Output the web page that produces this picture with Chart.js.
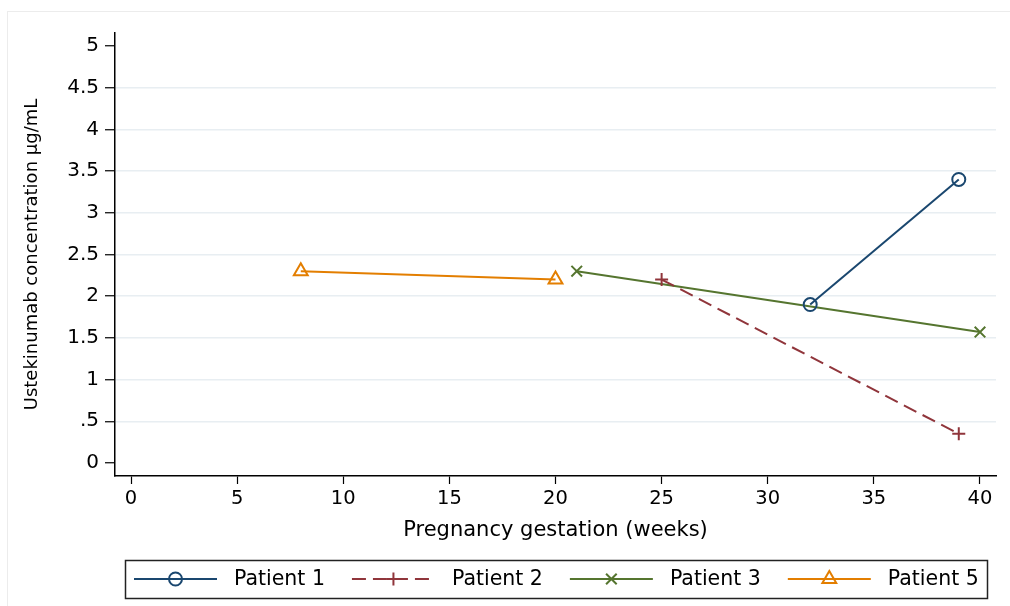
<!DOCTYPE html>
<html>
<head>
<meta charset="utf-8">
<script src="https://cdn.jsdelivr.net/npm/chart.js@4/dist/chart.umd.min.js"></script>
<style>
  html, body { margin: 0; padding: 0; background: #fff; }
  #wrap { width: 1010px; height: 606px; position: relative; }
</style>
</head>
<body>
<div id="wrap"><canvas id="c" width="1010" height="606"></canvas></div>
<script>
// Serum ustekinumab levels during pregnancy, per patient
const patient1Weeks = [32, 39];
const patient1Conc  = [1.9, 3.4];
const patient2Weeks = [25, 39];
const patient2Conc  = [2.2, 0.35];
const patient3Weeks = [21, 40];
const patient3Conc  = [2.3, 1.57];
const patient5Weeks = [8, 20];
const patient5Conc  = [2.3, 2.2];

const seriesNames = ['Patient 1', 'Patient 2', 'Patient 3', 'Patient 5'];

const xTickValues = [0, 5, 10, 15, 20, 25, 30, 35, 40];
const yTickValues = [0, 0.5, 1, 1.5, 2, 2.5, 3, 3.5, 4, 4.5, 5];
const yTickLabels = ['0', '.5', '1', '1.5', '2', '2.5', '3', '3.5', '4', '4.5', '5'];

const FONT = "'DejaVu Sans', 'Liberation Sans', sans-serif";

function pts(xs, ys) { return xs.map((x, i) => ({ x: x, y: ys[i] })); }

const styles = [
  { color: '#1a476f', point: 'circle',   radius: 6.5, dash: [] },
  { color: '#90353b', point: 'cross',    radius: 6.5, dash: [14, 7] },
  { color: '#55752f', point: 'crossRot', radius: 7.5, dash: [] },
  { color: '#e37e00', point: 'triangle', radius: 8,   dash: [] }
];
const seriesData = [
  pts(patient1Weeks, patient1Conc),
  pts(patient2Weeks, patient2Conc),
  pts(patient3Weeks, patient3Conc),
  pts(patient5Weeks, patient5Conc)
];

const datasets = seriesNames.map((name, i) => ({
  label: name,
  data: seriesData[i],
  borderColor: styles[i].color,
  borderWidth: 2,
  borderDash: styles[i].dash,
  pointStyle: styles[i].point,
  pointRadius: styles[i].radius,
  pointHoverRadius: styles[i].radius,
  pointBorderWidth: 2,
  pointBorderColor: styles[i].color,
  pointBackgroundColor: 'rgba(0,0,0,0)',
  fill: false,
  tension: 0
}));

// faint frame around the whole graph region
const framePlugin = {
  id: 'frame',
  beforeDraw(chart) {
    const ctx = chart.ctx;
    ctx.save();
    ctx.fillStyle = '#ffffff';
    ctx.fillRect(0, 0, chart.width, chart.height);
    ctx.strokeStyle = '#ececec';
    ctx.lineWidth = 1;
    ctx.strokeRect(7.5, 11.5, chart.width + 20, chart.height + 20);
    ctx.restore();
  }
};

function drawMarker(ctx, style, x, y) {
  if (Chart.helpers && Chart.helpers.drawPoint) {
    Chart.helpers.drawPoint(ctx, { pointStyle: style.point, radius: style.radius, rotation: 0, borderWidth: 2 }, x, y);
  }
}

// boxed legend in one row below the x axis title
const legendPlugin = {
  id: 'boxLegend',
  afterDraw(chart) {
    const ctx = chart.ctx;
    const boxL = 125, boxT = 560, boxW = 862, boxH = 38;
    const cy = boxT + boxH / 2;
    ctx.save();
    ctx.strokeStyle = '#222';
    ctx.lineWidth = 1.5;
    ctx.strokeRect(boxL + 0.5, boxT + 0.5, boxW, boxH);
    ctx.font = "20.5px " + FONT;
    ctx.textBaseline = 'middle';
    ctx.textAlign = 'left';
    let x = 134;
    chart.data.datasets.forEach((ds, i) => {
      const st = styles[i];
      ctx.strokeStyle = st.color;
      ctx.lineWidth = 2;
      ctx.setLineDash(st.dash);
      ctx.beginPath();
      ctx.moveTo(x, cy);
      ctx.lineTo(x + 83, cy);
      ctx.stroke();
      ctx.setLineDash([]);
      ctx.fillStyle = 'rgba(0,0,0,0)';
      ctx.strokeStyle = st.color;
      ctx.lineWidth = 2;
      drawMarker(ctx, st, x + 41.5, cy);
      ctx.fillStyle = '#000';
      const tx = x + 100;
      ctx.fillText(ds.label, tx, cy + 1);
      x = tx + ctx.measureText(ds.label).width + 27;
    });
    ctx.restore();
  }
};

new Chart(document.getElementById('c'), {
  type: 'line',
  data: { datasets: datasets },
  plugins: [framePlugin, legendPlugin],
  options: {
    responsive: false,
    animation: false,
    events: [],
    layout: { padding: { left: 0, top: 33, right: 14, bottom: 0 } },
    plugins: { legend: { display: false }, tooltip: { enabled: false } },
    scales: {
      x: {
        type: 'linear',
        min: -0.754,
        max: 40.754,
        afterBuildTicks(scale) { scale.ticks = xTickValues.map(v => ({ value: v })); },
        afterFit(scale) { scale.height = 130; },
        border: { display: true, color: '#000', width: 1.5 },
        grid: { color: 'rgba(0,0,0,0)', drawTicks: true, tickLength: 8, tickColor: '#000', tickWidth: 1.2 },
        ticks: {
          color: '#000',
          font: { family: FONT, size: 19.5 },
          padding: 3,
          maxRotation: 0,
          autoSkip: false,
          callback: (v) => String(v)
        },
        title: {
          display: true,
          text: 'Pregnancy gestation (weeks)',
          color: '#000',
          font: { family: FONT, size: 21 },
          padding: { top: 0, bottom: 63 }
        }
      },
      y: {
        type: 'linear',
        min: -0.156,
        max: 5.156,
        afterBuildTicks(scale) { scale.ticks = yTickValues.map(v => ({ value: v })); },
        afterFit(scale) { scale.width = 115; },
        border: { display: true, color: '#000', width: 1.5 },
        grid: {
          color: (c) => (c.tick && (c.tick.value === 0 || c.tick.value === 5)) ? 'rgba(0,0,0,0)' : '#e8eef2',
          lineWidth: 1.5,
          drawTicks: true,
          tickLength: 10,
          tickColor: '#000',
          tickWidth: 1.2
        },
        ticks: {
          color: '#000',
          font: { family: FONT, size: 20 },
          padding: 6,
          autoSkip: false,
          callback: (v) => {
            const i = yTickValues.indexOf(v);
            return i >= 0 ? yTickLabels[i] : '';
          }
        },
        title: {
          display: true,
          text: 'Ustekinumab concentration µg/mL',
          color: '#000',
          font: { family: FONT, size: 18 },
          padding: { top: 22, bottom: 0 }
        }
      }
    }
  }
});
</script>
</body>
</html>
